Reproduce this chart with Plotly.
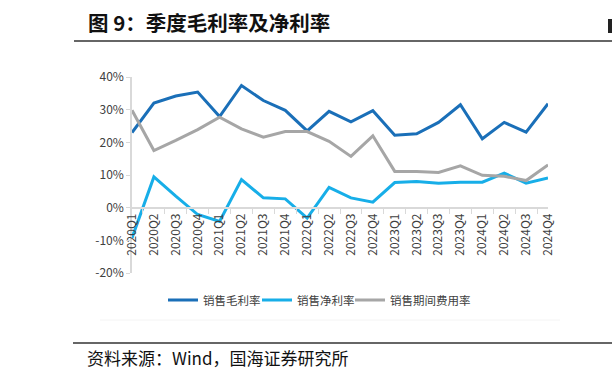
import plotly.graph_objects as go

quarters = ["2020Q1","2020Q2","2020Q3","2020Q4","2021Q1","2021Q2","2021Q3","2021Q4",
            "2022Q1","2022Q2","2022Q3","2022Q4","2023Q1","2023Q2","2023Q3","2023Q4",
            "2024Q1","2024Q2","2024Q3","2024Q4"]
gross_margin = [23.0, 32.0, 34.2, 35.4, 27.9, 37.4, 32.8, 29.8, 23.5, 29.5, 26.3, 29.7,
                22.2, 22.6, 26.1, 31.5, 21.1, 26.1, 23.1, 31.8]
net_margin = [-9.3, 9.4, 3.5, -2.1, -4.2, 8.6, 3.0, 2.7, -3.2, 6.2, 3.0, 1.7,
              7.7, 8.0, 7.5, 7.8, 7.8, 10.6, 7.5, 9.1]
expense_rate = [29.8, 17.5, 20.6, 23.9, 27.7, 24.1, 21.6, 23.3, 23.3, 20.3, 15.7, 22.0,
                11.1, 11.1, 10.8, 12.8, 9.9, 9.6, 8.3, 13.1]
series_names = ["销售毛利率", "销售净利率", "销售期间费用率"]
y_tickvals = [0.4, 0.3, 0.2, 0.1, 0.0, -0.1, -0.2]
y_ticktext = ["40%", "30%", "20%", "10%", "0%", "-10%", "-20%"]

colors = ["#1A6FB8", "#17AEE8", "#A6A6A6"]
font_family = "Noto Sans CJK SC, Noto Sans, DejaVu Sans, sans-serif"

# plot area pixel geometry
L, R, T, B = 132, 548, 77, 273
W, H = 612, 379

def px(x):
    return (x - L) / (R - L)

def py(y):
    return (B - y) / (B - T)

legend_ids = ["legend", "legend2", "legend3"]
legend_x = [163, 257, 350]

fig = go.Figure()
for name, vals, c, lg in zip(series_names, [gross_margin, net_margin, expense_rate], colors, legend_ids):
    fig.add_trace(go.Scatter(x=quarters, y=[v / 100 for v in vals], name=name, legend=lg,
                             mode="lines", line=dict(color=c, width=3)))

legend_common = dict(orientation="h", xanchor="left", y=py(300), yanchor="middle",
                     font=dict(size=11.5, color="#404040"), bgcolor="rgba(0,0,0,0)")

fig.update_layout(
    width=W, height=H,
    margin=dict(l=L, r=W - R, t=T, b=H - B, pad=0, autoexpand=False),
    paper_bgcolor="white", plot_bgcolor="white",
    font=dict(family=font_family, size=11, color="#404040"),
    showlegend=True,
    legend=dict(x=px(legend_x[0]), **legend_common),
    legend2=dict(x=px(legend_x[1]), **legend_common),
    legend3=dict(x=px(legend_x[2]), **legend_common),
    xaxis=dict(
        type="category", anchor="free", position=py(208),
        showline=True, linecolor="#D9D9D9", linewidth=1.5,
        ticks="outside", tickson="boundaries", ticklen=5, tickcolor="#D9D9D9",
        tickangle=-90, showgrid=False, zeroline=False,
        tickfont=dict(size=12, color="#404040"),
    ),
    yaxis=dict(
        range=[-0.2, 0.4], tickvals=y_tickvals, ticktext=y_ticktext,
        showline=True, linecolor="#D9D9D9", linewidth=1.5,
        ticks="outside", ticklen=4, tickcolor="#D9D9D9",
        showgrid=False, zeroline=False,
        tickfont=dict(size=12, color="#404040"),
    ),
)

# title
fig.add_annotation(xref="paper", yref="paper", x=px(86), y=py(22), xanchor="left", yanchor="middle",
                   text="<b>图 9：季度毛利率及净利率</b>", showarrow=False,
                   font=dict(size=20.5, color="#111111", family=font_family))
# header / footer rules
fig.add_shape(type="line", xref="paper", yref="paper", x0=px(74), x1=px(612), y0=py(41), y1=py(41),
              line=dict(color="#333333", width=1.5))
fig.add_shape(type="line", xref="paper", yref="paper", x0=px(73), x1=px(612), y0=py(343), y1=py(343),
              line=dict(color="#333333", width=1.5))
fig.add_shape(type="line", xref="paper", yref="paper", x0=px(100), x1=px(560), y0=py(320), y1=py(320),
              line=dict(color="#F4F4F4", width=1))
# cut-off mark on right edge
fig.add_shape(type="rect", xref="paper", yref="paper", x0=px(608), x1=px(612), y0=py(33), y1=py(19),
              line=dict(width=0), fillcolor="#222222")
# source
fig.add_annotation(xref="paper", yref="paper", x=px(85), y=py(357), xanchor="left", yanchor="middle",
                   text="资料来源：Wind，国海证券研究所", showarrow=False,
                   font=dict(size=17, color="#111111", family=font_family))

fig.write_html("out.html", config={"displayModeBar": False},
               post_script="document.body.style.margin='0';document.body.style.overflow='hidden';")
